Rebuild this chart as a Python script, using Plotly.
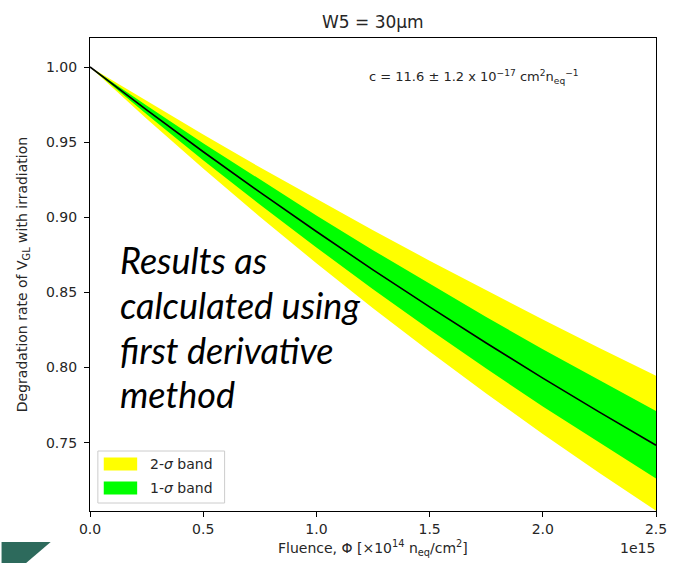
import plotly.graph_objects as go

# ---- data (fluence in units of 1e15 n_eq/cm^2) ----
fluence = [0.0, 0.25, 0.5, 0.75, 1.0, 1.25, 1.5, 1.75, 2.0, 2.25, 2.5]
central = [1.0, 0.9714, 0.9436, 0.9167, 0.8905, 0.8650, 0.8403, 0.8163, 0.7929, 0.7703, 0.7483]
one_sigma_upper = [1.0, 0.9743, 0.9493, 0.9250, 0.9012, 0.8781, 0.8556, 0.8336, 0.8122, 0.7914, 0.7711]
one_sigma_lower = [1.0, 0.9685, 0.9380, 0.9085, 0.8799, 0.8521, 0.8253, 0.7993, 0.7741, 0.7498, 0.7261]
two_sigma_upper = [1.0, 0.9773, 0.9550, 0.9333, 0.9121, 0.8914, 0.8711, 0.8513, 0.8319, 0.8130, 0.7945]
two_sigma_lower = [1.0, 0.9656, 0.9324, 0.9003, 0.8694, 0.8395, 0.8106, 0.7827, 0.7558, 0.7298, 0.7047]

x_ticks = [0.0, 0.5, 1.0, 1.5, 2.0, 2.5]
x_tick_labels = ["0.0", "0.5", "1.0", "1.5", "2.0", "2.5"]
y_ticks = [0.75, 0.80, 0.85, 0.90, 0.95, 1.00]
y_tick_labels = ["0.75", "0.80", "0.85", "0.90", "0.95", "1.00"]

legend_names = ["2-<i>σ</i> band", "1-<i>σ</i> band"]
band_colors = ["#ffff00", "#00ff00"]

W, H = 679, 563
L, R, T, B = 90, 13, 38, 52
PW, PH = W - L - R, H - T - B

def px(p):
    return (p - L) / PW

def py(p):
    return (H - B - p) / PH

MPL = "DejaVu Sans"
TXT = "#262626"

fig = go.Figure()
fig.add_trace(go.Scatter(x=fluence, y=two_sigma_lower, mode="lines",
                         line=dict(width=0, color=band_colors[0]), showlegend=False, hoverinfo="skip"))
fig.add_trace(go.Scatter(x=fluence, y=two_sigma_upper, mode="lines", fill="tonexty",
                         fillcolor=band_colors[0], line=dict(width=0, color=band_colors[0]),
                         name=legend_names[0], showlegend=False))
fig.add_trace(go.Scatter(x=fluence, y=one_sigma_lower, mode="lines",
                         line=dict(width=0, color=band_colors[1]), showlegend=False, hoverinfo="skip"))
fig.add_trace(go.Scatter(x=fluence, y=one_sigma_upper, mode="lines", fill="tonexty",
                         fillcolor=band_colors[1], line=dict(width=0, color=band_colors[1]),
                         name=legend_names[1], showlegend=False))
fig.add_trace(go.Scatter(x=fluence, y=central, mode="lines",
                         line=dict(width=1.6, color="black"), showlegend=False))

def ann(text, xp, yp, size, xanchor="center", **kw):
    d = dict(text=text, x=px(xp), y=py(yp), xref="paper", yref="paper",
             xanchor=xanchor, yanchor="middle", showarrow=False,
             font=dict(family=kw.pop("family", MPL), size=size, color=kw.pop("color", TXT)))
    d.update(kw)
    return d

def rect(x0, y0, x1, y1, **kw):
    return dict(type="rect", xref="paper", yref="paper",
                x0=px(x0), x1=px(x1), y0=py(y1), y1=py(y0), layer="above", **kw)

annotations = [
    ann("W5 = 30μm", 378, 22, 17),
    ann("Fluence, Φ [×10<sup>14</sup> n<sub>eq</sub>/cm<sup>2</sup>]", 378, 548, 14),
    ann("1e15", 667, 548, 14, xanchor="right"),
    ann("Degradation rate of V<sub>GL</sub> with irradiation", 22, 275, 14, textangle=-90),
    ann("c = 11.6 ± 1.2 x 10<sup>−17</sup> cm<sup>2</sup>n<sub>eq</sub><sup>−1</sup>",
        372, 77, 13, xanchor="left"),
]
big_lines = ["Results as", "calculated using", "first derivative", "method"]
baselines = [272, 317, 362, 406]
for line, bl in zip(big_lines, baselines):
    annotations.append(ann("<i>" + line + "</i>", 118, bl - 12, 36, xanchor="left",
                           family="Lato", color="black"))

# legend (drawn box, swatches and labels)
shapes = [rect(98, 451, 227, 503, fillcolor="rgba(255,255,255,0.85)",
               line=dict(color="#cccccc", width=1))]
for i, (name, col) in enumerate(zip(legend_names, band_colors)):
    yc = 464 + 24 * i
    shapes.append(rect(104, yc - 6.5, 138, yc + 6.5, fillcolor=col, line=dict(width=0)))
    annotations.append(ann(name, 149, yc, 14, xanchor="left"))

shapes.append(dict(type="path", xref="paper", yref="paper",
                   path=f"M {px(0)},{py(542)} L {px(50)},{py(542)} L {px(25)},{py(563)} L {px(0)},{py(563)} Z",
                   fillcolor="#2d6a5c", line=dict(width=0), layer="above"))

fig.update_layout(
    width=W, height=H,
    margin=dict(l=L, r=R, t=T, b=B),
    paper_bgcolor="white", plot_bgcolor="white",
    annotations=annotations,
    shapes=shapes,
    showlegend=False,
)
fig.update_xaxes(range=[0, 2.5], tickvals=x_ticks, ticktext=x_tick_labels,
                 showgrid=False, zeroline=False, showline=True, linecolor="black", linewidth=1.2,
                 mirror=True, ticks="outside", ticklen=5, tickcolor="black",
                 tickfont=dict(family=MPL, size=14, color=TXT))
fig.update_yaxes(range=[0.7045, 1.0193], tickvals=y_ticks, ticktext=y_tick_labels,
                 showgrid=False, zeroline=False, showline=True, linecolor="black", linewidth=1.2,
                 mirror=True, ticks="outside", ticklen=5, tickcolor="black", ticklabelstandoff=4,
                 tickfont=dict(family=MPL, size=14, color=TXT))

fig.write_html("out.html", config={"displayModeBar": False},
               post_script="document.body.style.margin='0px';")
